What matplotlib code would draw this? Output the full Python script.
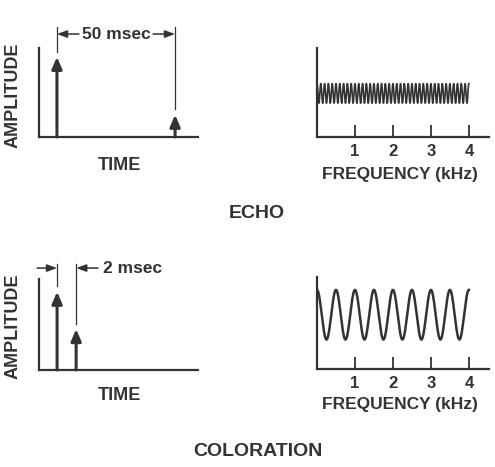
import numpy as np
import matplotlib
matplotlib.use("Agg")
import matplotlib.pyplot as plt

# pulse data (time in msec, relative amplitude)
echo_times = [0, 50]
echo_amps = [0.9, 0.25]
color_times = [0, 2]
color_amps = [0.86, 0.45]

# spectrum ripple: spacing in kHz, centre level, ripple depth
freq_ticks = [1, 2, 3, 4]
echo_spacing = 0.1
echo_level, echo_depth = 0.49, 0.11
color_spacing = 0.5
color_level, color_depth = 0.59, 0.27

ink = "#333333"
plt.rcParams["font.family"] = ["Liberation Sans", "DejaVu Sans"]
plt.rcParams["font.weight"] = "bold"

W, H = 495, 467
fig = plt.figure(figsize=(W / 100, H / 100), dpi=100)


def px_axes(l, t, r, b):
    return fig.add_axes([l / W, 1 - b / H, (r - l) / W, (b - t) / H])


def base(ax):
    for s in ["top", "right"]:
        ax.spines[s].set_visible(False)
    for s in ["left", "bottom"]:
        ax.spines[s].set_color(ink)
        ax.spines[s].set_linewidth(1.6)
    ax.set_ylim(0, 1)


def pulses(ax, times, amps):
    for t, a in zip(times, amps):
        ax.annotate("", xy=(t, a), xytext=(t, 0),
                    arrowprops=dict(arrowstyle="-|>,head_length=0.7,head_width=0.3",
                                    color=ink, lw=2.2, shrinkA=0, shrinkB=0))
    ax.set_xticks([])
    ax.set_yticks([])


def spectrum(ax, spacing, level, depth, lw):
    f = np.linspace(0, 4, 2000)
    ax.plot(f, level + depth * np.cos(2 * np.pi * f / spacing), color=ink, lw=lw)
    ax.set_xlim(0, 4.53)
    ax.set_xticks(freq_ticks)
    ax.set_xticklabels([str(v) for v in freq_ticks])
    ax.tick_params(axis="x", direction="in", length=8.5, width=1.3, color=ink,
                   pad=5, labelsize=12, labelcolor=ink)
    ax.set_yticks([])


# ---- echo, time ----
ax1 = px_axes(39, 48, 198, 137)
base(ax1)
ax1.set_xlim(-7.6, 59.7)
pulses(ax1, echo_times, echo_amps)
for t, a in zip(echo_times, echo_amps):
    ax1.plot([t, t], [a + 0.06, 1.24], color=ink, lw=0.9, clip_on=False)
arr = dict(arrowstyle="-|>,head_length=0.6,head_width=0.22", color=ink, lw=1.1,
           shrinkA=0, shrinkB=0)
ax1.annotate("", xy=(0, 1.157), xytext=(9.3, 1.157), arrowprops=arr, annotation_clip=False)
ax1.annotate("", xy=(50, 1.157), xytext=(40.7, 1.157), arrowprops=arr, annotation_clip=False)
ax1.text(25, 1.157, "50 msec", ha="center", va="center", fontsize=12.5, color=ink,
         fontweight="bold", clip_on=False)

# ---- echo, spectrum ----
ax2 = px_axes(317, 48, 489, 137)
base(ax2)
spectrum(ax2, echo_spacing, echo_level, echo_depth, 1.2)

# ---- coloration, time ----
ax3 = px_axes(39, 279, 198, 370)
base(ax3)
ax3.set_xlim(-1.9, 14.8)
pulses(ax3, color_times, color_amps)
for t, a in zip(color_times, color_amps):
    ax3.plot([t, t], [a + 0.06, 1.165], color=ink, lw=0.9, clip_on=False)
ax3.annotate("", xy=(0, 1.12), xytext=(-2.1, 1.12), arrowprops=arr, annotation_clip=False)
ax3.annotate("", xy=(2, 1.12), xytext=(4.3, 1.12), arrowprops=arr, annotation_clip=False)
ax3.text(4.84, 1.12, "2 msec", ha="left", va="center", fontsize=12.5, color=ink,
         fontweight="bold", clip_on=False)

# ---- coloration, spectrum ----
ax4 = px_axes(317, 277, 489, 369)
base(ax4)
spectrum(ax4, color_spacing, color_level, color_depth, 1.8)


def ftext(x, y, s, **kw):
    fig.text(x / W, 1 - y / H, s, ha="center", va="center", color=ink,
             fontweight="bold", **kw)


ftext(119, 165, "TIME", fontsize=13)
ftext(400, 175, "FREQUENCY (kHz)", fontsize=12.5)
ftext(119, 395, "TIME", fontsize=13)
ftext(400, 405, "FREQUENCY (kHz)", fontsize=12.5)
ftext(13, 95, "AMPLITUDE", fontsize=13, rotation=90)
ftext(13, 326, "AMPLITUDE", fontsize=13, rotation=90)
ftext(257, 214, "ECHO", fontsize=14)
ftext(258, 451, "COLORATION", fontsize=14)

fig.savefig("out.png", dpi=100, facecolor="white")
